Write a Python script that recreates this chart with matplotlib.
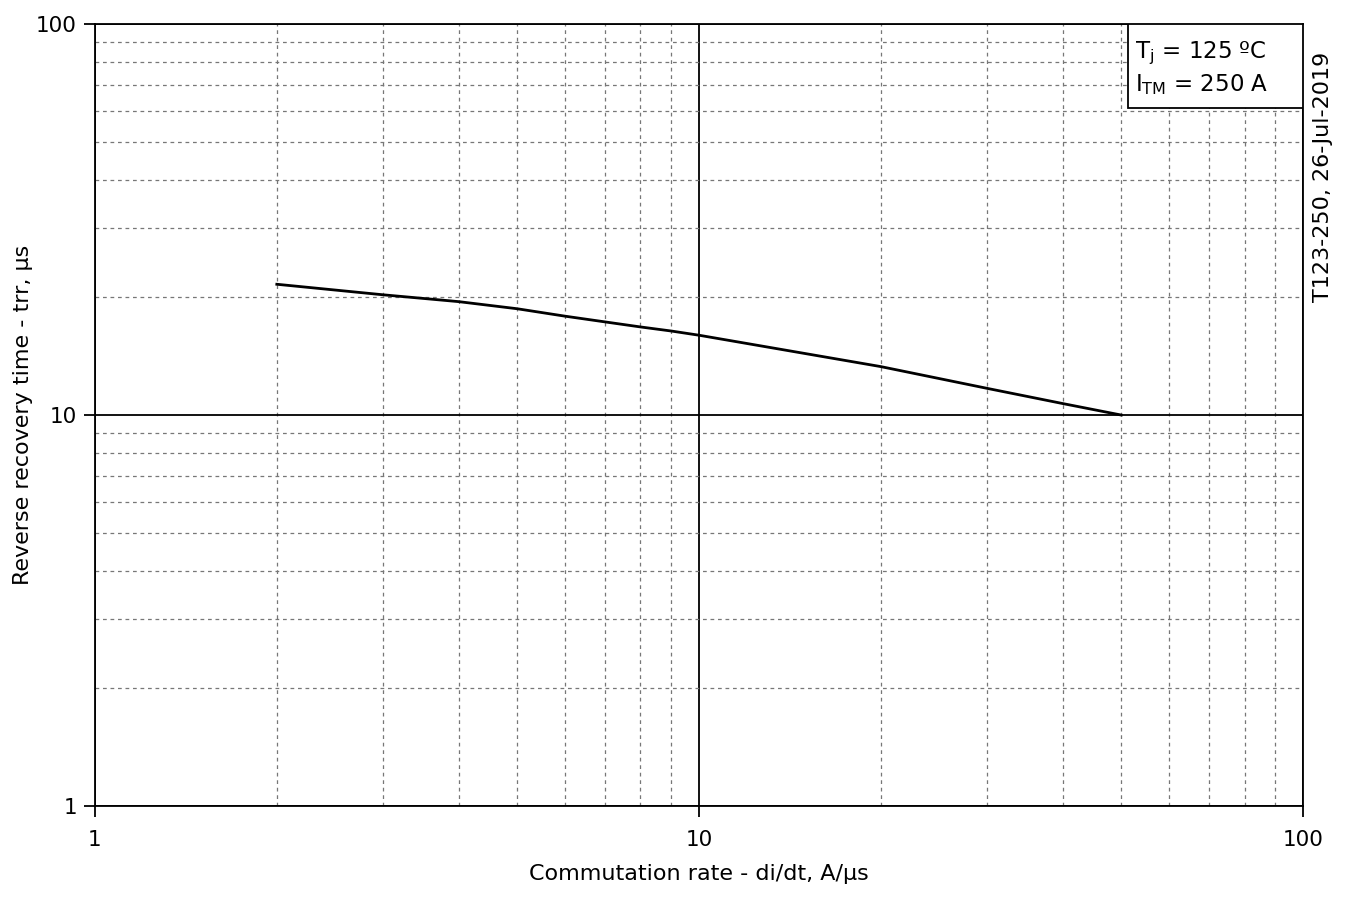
import numpy as np
import matplotlib.pyplot as plt
from matplotlib.ticker import LogLocator, NullFormatter, FixedLocator
from matplotlib.patches import Rectangle

# curve
didt = [2, 3, 4, 5, 6, 7, 8, 9, 10, 20, 30, 40, 50]
trr = [21.6, 20.3, 19.5, 18.7, 17.9, 17.3, 16.8, 16.4, 16.0, 13.3, 11.7, 10.7, 10.0]

x_ticks = [1, 10, 100]
y_ticks = [1, 10, 100]

plt.rcParams['font.family'] = ['DejaVu Sans']

fig = plt.figure(figsize=(13.51, 9.0), dpi=100)
ax = fig.add_axes([0.0703, 0.1044, 0.8942, 0.8689])

ax.set_xscale('log')
ax.set_yscale('log')
ax.set_xlim(1, 100)
ax.set_ylim(1, 100)

# grid: dashed minor, solid major
ax.xaxis.set_minor_locator(LogLocator(base=10, subs=np.arange(2, 10)))
ax.yaxis.set_minor_locator(LogLocator(base=10, subs=np.arange(2, 10)))
ax.xaxis.set_minor_formatter(NullFormatter())
ax.yaxis.set_minor_formatter(NullFormatter())
ax.grid(which='minor', color='#777777', linestyle=(0, (3, 3)), linewidth=0.9)
ax.grid(which='major', color='black', linestyle='-', linewidth=1.3)

ax.xaxis.set_major_locator(FixedLocator(x_ticks))
ax.yaxis.set_major_locator(FixedLocator(y_ticks))
ax.set_xticklabels([str(v) for v in x_ticks], fontsize=15.5)
ax.set_yticklabels([str(v) for v in y_ticks], fontsize=15.5)
ax.tick_params(which='major', length=8, width=1.3, direction='out')
ax.tick_params(axis='x', pad=9)
ax.tick_params(axis='y', pad=5)
ax.tick_params(which='minor', length=0)
for s in ax.spines.values():
    s.set_linewidth(1.3)

ax.plot(didt, trr, color='black', linewidth=2)

ax.set_xlabel('Commutation rate - di/dt, A/\u03bcs', fontsize=16, labelpad=10)
ax.set_ylabel('Reverse recovery time - trr, \u03bcs', fontsize=16, labelpad=2)

# conditions box
ax.add_patch(Rectangle((0.855, 0.8926), 0.145, 0.1074, transform=ax.transAxes,
                       facecolor='white', edgecolor='black', linewidth=1.3, zorder=5))
ax.text(0.861, 0.963, 'T$_\\mathregular{j}$ = 125 \u00baC', transform=ax.transAxes,
        fontsize=16.5, va='center', ha='left', zorder=6)
ax.text(0.861, 0.922, 'I$_\\mathregular{TM}$ = 250 A', transform=ax.transAxes,
        fontsize=16.5, va='center', ha='left', zorder=6)

fig.text(0.979, 0.803, 'T123-250, 26-Jul-2019', rotation=90, fontsize=16,
         ha='center', va='center')

fig.savefig('out.png', dpi=100)
